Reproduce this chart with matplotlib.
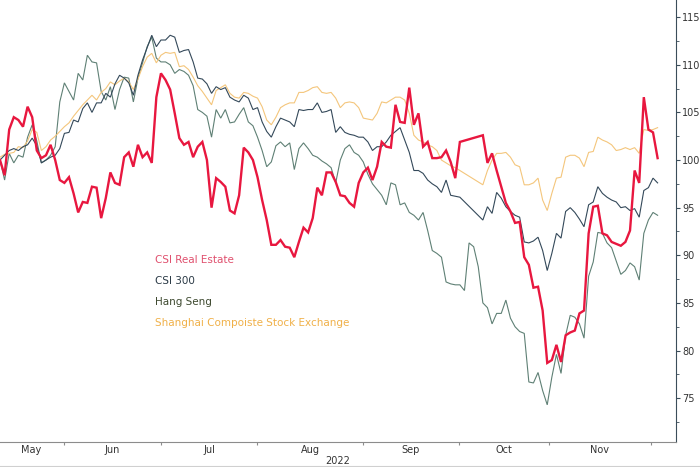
import numpy as np
import matplotlib
matplotlib.use("Agg")
import matplotlib.pyplot as plt
from matplotlib.ticker import MultipleLocator, FixedLocator, NullFormatter, FixedFormatter
from matplotlib.lines import Line2D

# daily closes rebased to 100 (one value per trading day, NaN = mainland market shut)
nan = np.nan
csi_real_estate = [
    100.0, 98.4, 103.2, 104.5, 104.2, 103.5, 105.6, 104.5, 101.0, 100.2,
    100.5, 101.6, 100.0, 97.9, 97.6, 98.2, 96.5, 94.5, 95.6, 95.5,
    97.2, 97.1, 93.9, 96.0, 98.7, 97.6, 97.4, 100.3, 100.8, 99.3,
    101.6, 100.3, 100.8, 99.7, 106.6, 109.1, 108.4, 107.4, 104.9, 102.3,
    101.6, 101.9, 100.3, 101.4, 101.9, 100.0, 95.0, 98.1, 97.7, 97.2,
    94.7, 94.4, 96.3, 101.3, 100.8, 100.0, 98.2, 95.8, 93.7, 91.1,
    91.1, 91.6, 90.9, 90.8, 89.8, 91.4, 92.9, 92.4, 93.9, 97.1,
    96.3, 98.7, 98.7, 97.7, 96.3, 96.2, 95.5, 95.1, 97.6, 98.7,
    99.2, 97.9, 99.3, 101.9, 101.4, 101.3, 105.8, 104.0, 103.9, 107.6,
    103.7, 104.9, 101.4, 101.9, 100.2, 100.2, 100.3, 101.0, 99.8, 98.1,
    101.9, nan, nan, nan, nan, 102.6, 99.7, 100.7, 98.9, 97.2,
    95.5, 94.6, 93.4, 93.5, 89.8, 89.0, 86.6, 86.7, 84.2, 78.7,
    79.0, 80.6, 78.8, 81.6, 81.9, 82.1, 83.9, 84.2, 92.3, 95.1,
    95.2, 92.3, 92.1, 91.4, 91.2, 91.0, 91.4, 92.6, 98.9, 97.6,
    106.6, 103.2, 102.9, 100.2,
]
csi_300 = [
    100.0, 100.5, 101.0, 101.2, 101.0, 101.4, 101.6, 102.3, 101.5, 99.7,
    100.0, 100.3, 100.5, 101.2, 102.8, 102.9, 104.2, 104.0, 105.4, 106.0,
    105.0, 106.0, 106.0, 107.0, 106.6, 108.0, 108.9, 108.6, 108.1, 106.8,
    108.9, 110.5, 111.8, 113.1, 111.9, 112.6, 112.6, 113.1, 112.9, 111.3,
    111.5, 111.6, 110.3, 108.6, 108.5, 108.0, 107.0, 107.7, 107.4, 107.6,
    106.6, 106.3, 106.1, 106.8, 106.5, 105.3, 105.5, 104.0, 103.0, 102.4,
    103.5, 104.4, 104.2, 104.0, 103.5, 105.3, 105.2, 105.3, 105.3, 106.0,
    105.0, 105.1, 105.3, 102.9, 103.5, 102.9, 102.7, 102.6, 102.4, 102.4,
    101.9, 101.0, 101.4, 101.4, 101.9, 102.6, 103.0, 103.4, 102.1, 100.8,
    98.9, 98.9, 98.6, 97.9, 97.5, 97.2, 96.6, 97.9, 96.3, 96.2,
    96.1, nan, nan, nan, nan, 93.7, 95.1, 94.4, 96.6, 96.0,
    95.1, 94.6, 94.2, 94.0, 91.4, 91.3, 91.5, 91.9, 90.5, 88.4,
    90.2, 92.3, 91.8, 94.6, 95.0, 94.5, 93.8, 93.0, 95.3, 95.6,
    97.2, 96.5, 96.1, 95.8, 95.6, 95.0, 95.1, 94.7, 94.9, 94.0,
    96.8, 97.1, 98.1, 97.6,
]
hang_seng = [
    100.0, 97.9, 100.7, 99.7, 100.5, 100.3, 102.4, 103.7, 102.0, 99.7,
    100.0, 100.5, 101.4, 106.1, 108.1, 107.2, 106.3, 109.1, 108.4, 111.0,
    110.3, 110.2, 107.2, 106.3, 107.7, 105.3, 107.4, 108.7, 108.6, 106.1,
    108.6, 110.2, 111.9, 112.9, 110.7, 110.3, 110.3, 110.0, 109.1, 109.5,
    109.3, 108.9, 107.8, 105.3, 105.0, 104.6, 102.4, 105.3, 104.4, 105.3,
    103.9, 104.0, 104.8, 105.5, 104.0, 103.6, 102.4, 101.0, 99.3, 99.8,
    101.5, 101.9, 101.4, 101.8, 99.0, 101.2, 101.8, 101.2, 100.5, 100.3,
    99.9, 99.6, 99.2, 97.6, 100.0, 101.2, 101.6, 100.8, 100.5, 99.8,
    98.5, 97.5, 96.9, 96.3, 95.3, 97.6, 97.4, 95.3, 95.5, 94.5,
    94.2, 93.7, 94.5, 92.6, 90.5, 90.2, 89.8, 87.2, 87.0, 86.9,
    86.9, 86.3, 91.3, 90.9, 88.8, 85.0, 84.5, 82.8, 83.9, 83.9,
    85.3, 83.4, 82.5, 82.0, 81.8, 76.7, 76.6, 77.7, 75.8, 74.3,
    77.2, 79.6, 77.6, 81.6, 83.7, 83.5, 82.8, 81.3, 87.8, 89.3,
    92.4, 92.3, 91.3, 90.8, 89.4, 88.0, 88.4, 89.2, 88.8, 87.4,
    92.3, 93.7, 94.5, 94.2,
]
shanghai = [
    100.3, 100.6, 100.7, 100.8, 101.4, 101.3, 102.0, 103.2, 102.9, 101.0,
    101.4, 102.1, 102.5, 103.0, 103.5, 103.9, 104.6, 105.2, 105.8, 106.3,
    106.8, 106.3, 107.1, 107.5, 108.2, 107.9, 108.3, 108.6, 108.2, 107.4,
    108.5, 109.8, 110.8, 111.2, 110.2, 111.0, 111.3, 111.2, 111.3, 109.8,
    109.9, 109.5, 108.7, 107.8, 107.2, 106.5, 105.8, 107.3, 107.6, 107.9,
    107.0, 106.6, 106.5, 107.1, 107.0, 106.7, 106.5, 105.6, 104.2, 103.7,
    104.5, 105.5, 105.8, 106.0, 106.0, 107.1, 107.1, 107.3, 107.6, 107.7,
    107.1, 107.0, 107.1, 106.5, 105.5, 106.0, 106.1, 106.0, 105.5, 104.4,
    104.3, 104.2, 104.9, 106.1, 106.0, 106.3, 106.6, 106.6, 106.3, 104.9,
    102.6, 102.1, 101.9, 101.6, 101.4, 101.0, 100.0, 99.7, 99.4, 99.2,
    98.9, nan, nan, nan, nan, 97.4, 98.9, 100.0, 100.7, 100.7,
    100.8, 100.3, 99.5, 99.3, 97.4, 97.4, 97.6, 98.1, 95.8, 94.7,
    96.5, 98.1, 98.2, 100.3, 100.5, 100.5, 100.2, 99.3, 100.8, 100.9,
    102.4, 102.1, 101.9, 101.6, 101.0, 101.1, 101.3, 101.1, 101.3, 100.7,
    103.2, 103.1, 103.2, 103.4,
]

series_names = ["CSI Real Estate", "CSI 300", "Hang Seng",
                "Shanghai Compoiste Stock Exchange"]
months = ["May", "Jun", "Jul", "Aug", "Sep", "Oct", "Nov"]
# month boundaries in trading-day units (first session of each month)
month_edges = [-0.5, 13.9, 35.0, 55.9, 78.9, 99.8, 119.3, 141.5]

line_colors = {"CSI Real Estate": "#e8173f", "CSI 300": "#34495a",
               "Hang Seng": "#5f8075", "Shanghai Compoiste Stock Exchange": "#f4c67c"}
text_colors = {"CSI Real Estate": "#e0506e", "CSI 300": "#2b3a46",
               "Hang Seng": "#3e4a30", "Shanghai Compoiste Stock Exchange": "#f0b048"}

plt.rcParams["font.family"] = ["DejaVu Sans"]

fig = plt.figure(figsize=(7, 4.67), dpi=100)
ax = fig.add_axes([0, 1 - 442 / 467, 676 / 700, 442 / 467])

x = np.arange(len(csi_real_estate))


def draw(vals, name, lw, z):
    v = np.array(vals, dtype=float)
    m = ~np.isnan(v)
    ax.plot(x[m], v[m], color=line_colors[name], lw=lw, zorder=z,
            solid_joinstyle="miter")


draw(hang_seng, "Hang Seng", 0.8, 2)
draw(csi_300, "CSI 300", 0.8, 3)
draw(shanghai, "Shanghai Compoiste Stock Exchange", 0.8, 2.5)
draw(csi_real_estate, "CSI Real Estate", 1.7, 4)

ax.set_xlim(0, 147)
ax.set_ylim(70.4, 116.8)

for s in ["left", "top"]:
    ax.spines[s].set_visible(False)
ax.spines["right"].set_color("#3b4d5a")
ax.spines["right"].set_linewidth(0.8)
ax.spines["bottom"].set_color("#8c8c8c")
ax.spines["bottom"].set_linewidth(0.8)

ax.yaxis.tick_right()
ax.yaxis.set_major_locator(MultipleLocator(5))
ax.yaxis.set_minor_locator(MultipleLocator(2.5))
ax.tick_params(axis="y", which="major", direction="out", length=3, width=0.8,
               color="#3b4d5a", labelsize=7, labelcolor="#333333", pad=1.5)
ax.tick_params(axis="y", which="minor", direction="out", length=2, width=0.6,
               color="#3b4d5a")

ax.xaxis.set_major_locator(FixedLocator(month_edges[1:]))
ax.xaxis.set_major_formatter(NullFormatter())
mids = [(a + b) / 2 for a, b in zip(month_edges[:-1], month_edges[1:])]
ax.xaxis.set_minor_locator(FixedLocator(mids))
ax.xaxis.set_minor_formatter(FixedFormatter(months))
ax.tick_params(axis="x", which="major", direction="out", length=2.5, width=0.8,
               color="#8c8c8c")
ax.tick_params(axis="x", which="minor", length=0, labelsize=7,
               labelcolor="#333333", pad=2)

fig.text(338 / 700, 1 - 461 / 467, "2022", ha="center", va="center",
         fontsize=7, color="#333333")

label_y = [260, 281, 302, 323]
for name, yy in zip(series_names, label_y):
    fig.text(155 / 700, 1 - yy / 467, name, ha="left", va="center",
             fontsize=7.5, color=text_colors[name])

fig.add_artist(Line2D([0, 1], [0.003, 0.003], color="#d0d0d0", lw=0.8))

fig.savefig("out.png", dpi=100)
